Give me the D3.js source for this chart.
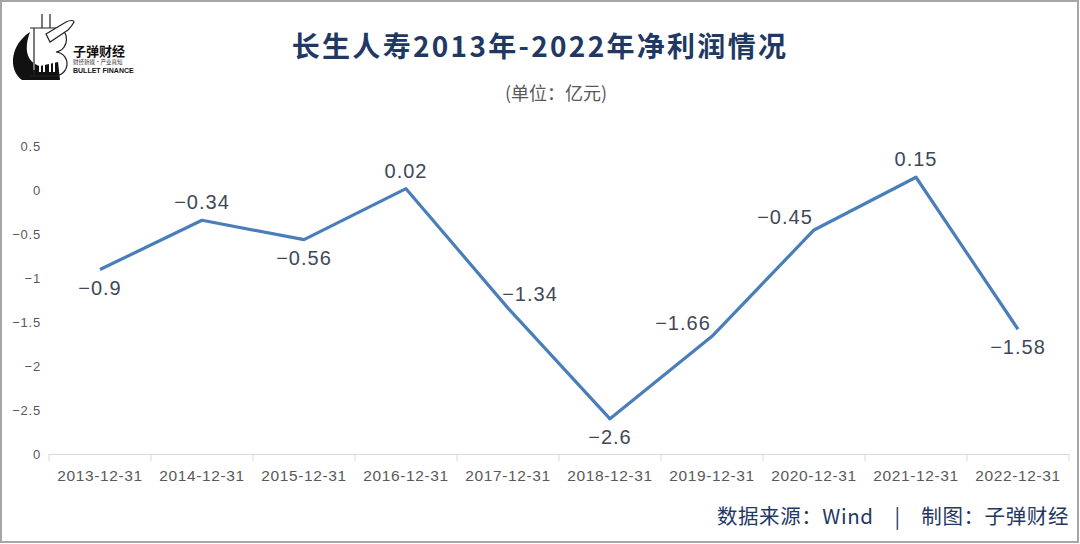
<!DOCTYPE html>
<html><head><meta charset="utf-8">
<script src="https://cdn.jsdelivr.net/npm/d3@7"></script>
<style>
html,body{margin:0;padding:0;background:#fff;}
svg{display:block;font-family:"Liberation Sans","Noto Sans CJK SC",sans-serif;}
</style></head>
<body><svg id="c" width="1080" height="544"></svg>
<script>
const categories = ["2013-12-31","2014-12-31","2015-12-31","2016-12-31","2017-12-31","2018-12-31","2019-12-31","2020-12-31","2021-12-31","2022-12-31"];
const netProfit = [-0.9,-0.34,-0.56,0.02,-1.34,-2.6,-1.66,-0.45,0.15,-1.58];
const labelPlacement = ["below","above","below","above","right","below","left","left","above","below"];
const yTickValues = [0.5,0,-0.5,-1,-1.5,-2,-2.5,-3];
const yTickLabels = ["0.5","0","−0.5","−1","−1.5","−2","−2.5","0"];
const titleText = "长生人寿2013年-2022年净利润情况";
const unitText = "(单位：亿元)";
const sourceText = "数据来源：Wind\u00a0\u00a0\u00a0\u00a0|\u00a0\u00a0\u00a0\u00a0制图：子弹财经";

const svg = d3.select("#c");
const W = 1080, H = 544;
svg.append("rect").attr("width",W).attr("height",H).attr("fill","#fff");

const x = d3.scaleBand().domain(categories).range([49,1069]);
const y = d3.scaleLinear().domain([-3,0.5]).range([454,146.5]);

// title
svg.append("text").attr("x",540).attr("y",57).attr("text-anchor","middle")
  .attr("font-family","'Noto Sans CJK SC',sans-serif").attr("font-weight","bold")
  .attr("font-size",28).attr("letter-spacing",2.3).attr("fill","#1f3864").text(titleText);
svg.append("text").attr("x",556).attr("y",100).attr("text-anchor","middle")
  .attr("font-family","'Noto Sans CJK SC',sans-serif")
  .attr("font-size",18).attr("fill","#595959").text(unitText);

// y axis labels (no line)
const yAxis = d3.axisLeft(y).tickValues(yTickValues).tickSize(0).tickPadding(0)
  .tickFormat((d,i)=>yTickLabels[i]);
const gy = svg.append("g").attr("transform","translate(41,0)").call(yAxis);
gy.select(".domain").remove();
gy.selectAll("text").attr("font-size",13).attr("fill","#595959")
  .attr("font-family","'Liberation Sans',sans-serif").attr("letter-spacing",0.8);

// x axis
const xAxis = d3.axisBottom(x).tickSize(0).tickPadding(16);
const gx = svg.append("g").attr("transform","translate(0,454)").call(xAxis);
gx.select(".domain").attr("stroke","#d9d9d9").attr("stroke-width",1);
gx.selectAll("text").attr("font-size",15.5).attr("fill","#595959")
  .attr("font-family","'Liberation Sans',sans-serif").attr("letter-spacing",0.6);
// boundary tick marks
const bounds = categories.map(c=>x(c)).concat([x.range()[1]]);
svg.append("g").selectAll("line").data(bounds).join("line")
  .attr("x1",d=>d).attr("x2",d=>d).attr("y1",454).attr("y2",461)
  .attr("stroke","#d9d9d9").attr("stroke-width",1);

// line
const cx = c=>x(c)+x.bandwidth()/2;
const line = d3.line().x((d,i)=>cx(categories[i])).y(d=>y(d));
svg.append("path").datum(netProfit).attr("d",line)
  .attr("fill","none").attr("stroke","#4a7ebb").attr("stroke-width",3.2)
  .attr("stroke-linejoin","round");

// data labels
const offs = {below:[0,25],above:[0,-11],right:[22,-7],left:[-29,-6]};
svg.append("g").selectAll("text").data(netProfit).join("text")
  .attr("x",(d,i)=>cx(categories[i])+offs[labelPlacement[i]][0])
  .attr("y",(d,i)=>y(d)+offs[labelPlacement[i]][1])
  .attr("text-anchor","middle").attr("font-size",20).attr("letter-spacing",1)
  .attr("fill","#404858").attr("font-family","'Liberation Sans',sans-serif")
  .text(d=>String(d).replace("-","−"));

// footer
svg.append("text").attr("x",1069).attr("y",524).attr("text-anchor","end")
  .attr("font-family","'Noto Sans CJK SC',sans-serif").attr("font-size",20.5)
  .attr("letter-spacing",0.6).attr("fill","#1f3864").text(sourceText);

// logo
const lg = svg.append("g");
lg.append("path").attr("d","M30,32 C10,45 8,70 22,80 L60,80 L58,62 L40,66 C26,62 24,48 30,32 Z").attr("fill","#111");
lg.append("path").attr("d","M34,70 L34,62 L40,60 L40,72 M44,72 L44,56 L50,56 L50,72 M54,72 L54,50 L60,48 L60,72").attr("stroke","#fff").attr("stroke-width",2).attr("fill","none");
lg.append("path").attr("d","M34,28 L34,76 M42,14 L42,28 M50,14 L50,28 M30,28 L56,28 C70,28 70,50 56,52 C72,54 70,76 54,76 L30,76")
  .attr("stroke","#222").attr("stroke-width",1.2).attr("fill","none");
lg.append("path").attr("d","M46,34 L66,22 C70,20 74,20 74,22 C72,26 70,28 68,30 L50,42 Z").attr("fill","#fff").attr("stroke","#222").attr("stroke-width",1.2);
lg.append("text").attr("x",73).attr("y",56).attr("font-family","'Noto Sans CJK SC',sans-serif").attr("font-weight","bold").attr("font-size",13).attr("fill","#111").text("子弹财经");
lg.append("text").attr("x",73).attr("y",64).attr("font-family","'Noto Sans CJK SC',sans-serif").attr("font-size",5.5).attr("fill","#333").text("财经新媒·产业真知");
lg.append("text").attr("x",73).attr("y",73).attr("font-family","'Liberation Sans',sans-serif").attr("font-weight","bold").attr("font-size",7).attr("fill","#111").text("BULLET FINANCE");

// border
svg.append("rect").attr("x",1).attr("y",1).attr("width",1077).attr("height",541)
  .attr("fill","none").attr("stroke","#a6a6a6").attr("stroke-width",2);
</script></body></html>
